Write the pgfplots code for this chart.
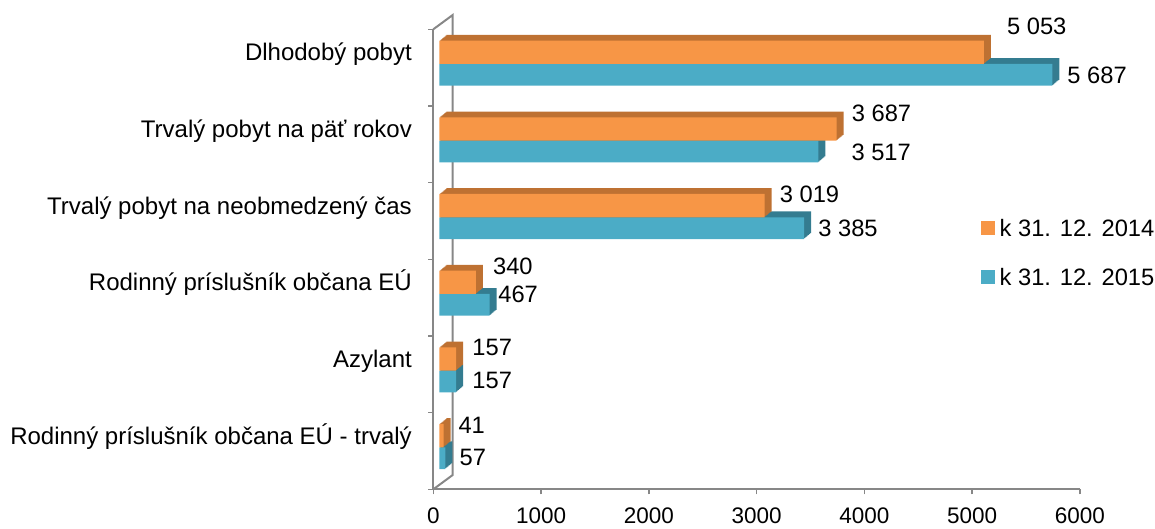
\documentclass[border=0pt]{standalone}
\usepackage{pgfplots}
\pgfplotsset{compat=1.18}
\usepackage{pgfplotstable}
\usepackage{fontspec}
\setmainfont{Liberation Sans}
\definecolor{orF}{RGB}{247,150,70}
\definecolor{orD}{RGB}{190,113,50}
\definecolor{blF}{RGB}{75,172,198}
\definecolor{blD}{RGB}{52,124,144}
\definecolor{axg}{RGB}{135,135,135}
\newcommand\lab{\fontsize{23.7bp}{28bp}\selectfont}

\pgfplotstableread{
k o b odx ody bdx bdy
6 5053 5687 29 25.6 21 0
5 3687 3517 21 15.7 39 -0.5
4 3019 3385 21 10.9 20 0
3 340 467 23 15.6 14.5 10.9
2 157 157 22 11.5 22 1.5
1 41 57 20.6 9.8 20 1.2
}\data

\begin{document}
\begin{tikzpicture}
\useasboundingbox (-433.3bp,-39.7bp) rectangle (721.7bp,489.3bp);
\begin{axis}[
 at={(0,0)}, anchor=south west,
 scale only axis, width=646.7bp, height=460bp,
 xmin=0, xmax=6000, ymin=0, ymax=6,
 clip=false,
 axis lines*=left,
 axis line style={axg, line width=2bp},
 every tick/.style={axg, line width=1.5bp},
 tick align=outside,
 major tick length=5bp,
 xtick={0,1000,...,6000},
 ytick={0,1,...,6},
 yticklabels={Rodinný príslušník občana EÚ - trvalý, Azylant, Rodinný príslušník občana EÚ\hspace{9bp}, Trvalý pobyt na neobmedzený čas, Trvalý pobyt na päť rokov, Dlhodobý pobyt, {}},
 /pgf/number format/assume math mode=true,
 /pgf/number format/1000 sep={},
 xticklabel style={font=\fontsize{22.5bp}{27bp}\selectfont, inner sep=0pt, anchor=north, yshift=-13.5bp},
 yticklabel style={font=\fontsize{24bp}{28bp}\selectfont, inner sep=0pt, anchor=base east, xshift=-16.3bp, yshift=45.2bp},
 legend style={at={(0.8465,0.587)}, anchor=north west, draw=none, fill=none, inner sep=0pt, outer sep=0pt, font=\lab, row sep=31.6bp, column sep=5bp, nodes={inner sep=0pt, text depth=0pt}},
 legend cell align=left,
 ]
\draw[axg, line width=2bp] (axis cs:0,6) -- ++(19.4bp,14.3bp) -- ++(0,-460bp) -- (axis cs:0,0);

\pgfplotsinvokeforeach{1,2,3,4,5,6,7}{
\addplot[xbar, bar width=21.7bp, bar shift=0pt, fill=blD, draw=none, xshift={6bp+#1bp}, yshift={#1*0.84bp}, forget plot] table[x=b, y expr=\thisrow{k}-0.594]{\data};
}
\addplot[xbar, bar width=21.7bp, bar shift=0pt, fill=blF, draw=none, xshift=6bp, forget plot] table[x=b, y expr=\thisrow{k}-0.594]{\data};
\pgfplotsinvokeforeach{1,2,3,4,5,6,7}{
\addplot[xbar, bar width=23.3bp, bar shift=0pt, fill=orD, draw=none, xshift={6bp+#1bp}, yshift={#1*0.82bp}, forget plot] table[x=o, y expr=\thisrow{k}-0.30]{\data};
}
\addplot[xbar, bar width=23.3bp, bar shift=0pt, fill=orF, draw=none, xshift=6bp, forget plot] table[x=o, y expr=\thisrow{k}-0.30]{\data};

\addplot[draw=none, no markers, forget plot, point meta=\thisrow{o},
  visualization depends on={\thisrow{odx} \as \ldx},
  visualization depends on={\thisrow{ody} \as \ldy},
  nodes near coords={\pgfmathprintnumber[fixed, precision=0, 1000 sep={\ }]{\pgfplotspointmeta}},
  every node near coord/.append style={anchor=west, inner sep=0pt, xshift=\ldx bp, yshift=\ldy bp, font=\lab, text=black}]
  table[x=o, y expr=\thisrow{k}-0.30]{\data};
\addplot[draw=none, no markers, forget plot, point meta=\thisrow{b},
  visualization depends on={\thisrow{bdx} \as \ldx},
  visualization depends on={\thisrow{bdy} \as \ldy},
  nodes near coords={\pgfmathprintnumber[fixed, precision=0, 1000 sep={\ }]{\pgfplotspointmeta}},
  every node near coord/.append style={anchor=west, inner sep=0pt, xshift=\ldx bp, yshift=\ldy bp, font=\lab, text=black}]
  table[x=b, y expr=\thisrow{k}-0.594]{\data};

\addlegendimage{legend image code/.code={\fill[orF] (0bp,-6.8bp) rectangle (13.6bp,6.8bp);}}
\addlegendentry{k 31. 12. 2014}
\addlegendimage{legend image code/.code={\fill[blF] (0bp,-6.8bp) rectangle (13.6bp,6.8bp);}}
\addlegendentry{k 31. 12. 2015}
\end{axis}
\end{tikzpicture}
\end{document}
